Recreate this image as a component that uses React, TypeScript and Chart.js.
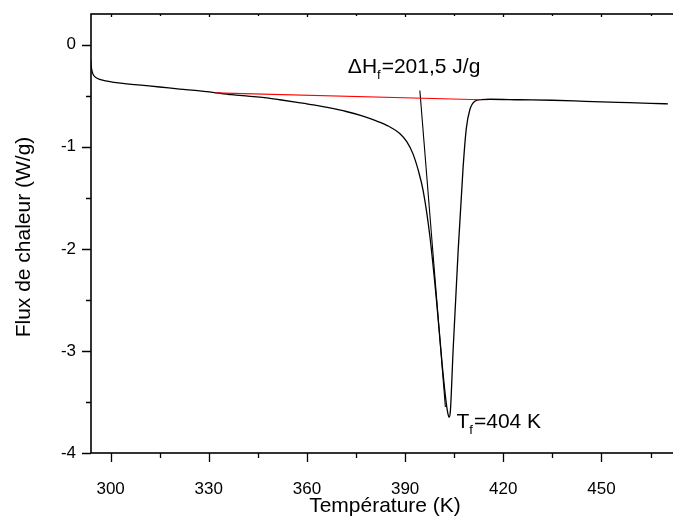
import React, { useEffect, useRef } from 'react';
import { Chart, registerables } from 'chart.js';

Chart.register(...registerables);

// DSC curve: temperature (K) and heat flow (W/g)
const temperature = [
  293.9, 294.1, 294.4, 294.9, 295.6, 296.6, 298.5, 301, 305, 310, 315, 321.1,
  327.2, 331.8, 337, 342, 347, 351.7, 357, 362, 367, 372, 377.1, 381, 385,
  388.35, 390.5, 392.4, 394, 395.5, 397.5, 399.6, 401.4, 402.6, 403.1, 403.4,
  403.8, 404.65, 406.2, 407.7, 408.7, 409.75, 411.3, 413.3, 416, 425, 435,
  445, 455, 465, 470.3,
];
const heatFlow = [
  -0.15, -0.22, -0.27, -0.305, -0.325, -0.34, -0.355, -0.37, -0.385, -0.4,
  -0.415, -0.435, -0.452, -0.47, -0.49, -0.505, -0.52, -0.54, -0.565, -0.59,
  -0.62, -0.655, -0.7, -0.745, -0.8, -0.87, -0.95, -1.07, -1.23, -1.43, -1.86,
  -2.51, -3.16, -3.52, -3.62, -3.65, -3.6, -3.0, -2.02, -1.21, -0.82, -0.64,
  -0.555, -0.538, -0.535, -0.54, -0.545, -0.555, -0.565, -0.575, -0.58,
];

// Integration baseline (red) and tangent line
const baselineT = [331.8, 413.3];
const baselineFlow = [-0.473, -0.54];
const tangentT = [394.5, 402.3];
const tangentFlow = [-0.45, -3.55];

// Axes
const xMajorTicks = [300, 330, 360, 390, 420, 450];
const xMinorTicks = [315, 345, 375, 405, 435, 465];
const yMajorTicks = [-4, -3, -2, -1, 0];
const yMinorTicks = [-3.5, -2.5, -1.5, -0.5];
const xRange = [294, 474];
const yRange = [-4, 0.3];
const xTitle = 'Température (K)';
const yTitle = 'Flux de chaleur (W/g)';

// Annotations: [main text, subscript, rest] and anchor (x value, y value)
const enthalpyLabel = ['ΔH', 'f', '=201,5 J/g'];
const enthalpyAt = [372.5, -0.277];
const meltLabel = ['T', 'f', '=404 K'];
const meltAt = [405.7, -3.76];

const FONT = '"Liberation Sans", Arial, sans-serif';

function toPoints(xs: number[], ys: number[]) {
  return xs.map((x, i) => ({ x, y: ys[i] }));
}

function drawSubText(ctx: CanvasRenderingContext2D, parts: string[], x: number, y: number) {
  ctx.font = `21px ${FONT}`;
  ctx.fillText(parts[0], x, y);
  x += ctx.measureText(parts[0]).width;
  ctx.font = `13px ${FONT}`;
  ctx.fillText(parts[1], x, y + 6);
  x += ctx.measureText(parts[1]).width + 1;
  ctx.font = `21px ${FONT}`;
  ctx.fillText(parts[2], x, y);
}

const framePlugin = {
  id: 'frame',
  afterDatasetsDraw(chart: any) {
    const { ctx, chartArea } = chart;
    const { left, right, top, bottom } = chartArea;
    const xs = chart.scales.x;
    const ys = chart.scales.y;
    ctx.save();
    ctx.strokeStyle = '#000';
    ctx.lineWidth = 1.6;
    ctx.strokeRect(left, top, right - left, bottom - top);

    ctx.lineWidth = 1.3;
    ctx.beginPath();
    const xt = (v: number, len: number, topLen: number) => {
      const px = Math.round(xs.getPixelForValue(v)) + 0.5;
      ctx.moveTo(px, bottom);
      ctx.lineTo(px, bottom + len);
      ctx.moveTo(px, top);
      ctx.lineTo(px, top + topLen);
    };
    xMajorTicks.forEach((v) => xt(v, 9, 3));
    xMinorTicks.forEach((v) => xt(v, 5, 2));
    const yt = (v: number, len: number) => {
      const py = Math.round(ys.getPixelForValue(v)) + 0.5;
      ctx.moveTo(left, py);
      ctx.lineTo(left - len, py);
    };
    yMajorTicks.forEach((v) => yt(v, 9));
    yMinorTicks.forEach((v) => yt(v, 5));
    ctx.stroke();

    ctx.fillStyle = '#000';
    ctx.textAlign = 'center';
    ctx.textBaseline = 'alphabetic';
    ctx.font = `21px ${FONT}`;
    ctx.fillText(xTitle, 385, 512);
    ctx.save();
    ctx.translate(30, 237);
    ctx.rotate(-Math.PI / 2);
    ctx.fillText(yTitle, 0, 0);
    ctx.restore();

    ctx.textAlign = 'left';
    drawSubText(
      ctx,
      enthalpyLabel,
      xs.getPixelForValue(enthalpyAt[0]),
      ys.getPixelForValue(enthalpyAt[1])
    );
    drawSubText(
      ctx,
      meltLabel,
      xs.getPixelForValue(meltAt[0]),
      ys.getPixelForValue(meltAt[1])
    );
    ctx.restore();
  },
};

export default function App() {
  const ref = useRef<HTMLCanvasElement | null>(null);
  useEffect(() => {
    if (!ref.current) return;
    const chart = new Chart(ref.current, {
      type: 'scatter',
      data: {
        datasets: [
          {
            data: toPoints(baselineT, baselineFlow),
            showLine: true,
            borderColor: '#ff0000',
            borderWidth: 1.2,
            pointRadius: 0,
          },
          {
            data: toPoints(tangentT, tangentFlow),
            showLine: true,
            borderColor: '#000',
            borderWidth: 1.1,
            pointRadius: 0,
          },
          {
            data: toPoints(temperature, heatFlow),
            showLine: true,
            borderColor: '#000',
            borderWidth: 1.3,
            pointRadius: 0,
            cubicInterpolationMode: 'monotone',
          },
        ],
      },
      options: {
        animation: false,
        responsive: false,
        devicePixelRatio: 1,
        layout: { padding: { top: 14, left: 0, right: 0, bottom: 0 } },
        plugins: { legend: { display: false }, tooltip: { enabled: false } },
        scales: {
          x: {
            type: 'linear',
            min: xRange[0],
            max: xRange[1],
            afterBuildTicks: (s: any) => {
              s.ticks = xMajorTicks.map((value) => ({ value }));
            },
            afterFit: (s: any) => {
              s.height = 64;
              s.paddingLeft = 0;
              s.paddingRight = 0;
            },
            grid: { display: false, drawTicks: false },
            border: { display: false },
            ticks: {
              color: '#000',
              padding: 26,
              maxRotation: 0,
              font: { family: FONT, size: 17 },
            },
          },
          y: {
            type: 'linear',
            min: yRange[0],
            max: yRange[1],
            afterBuildTicks: (s: any) => {
              s.ticks = yMajorTicks.map((value) => ({ value }));
            },
            afterFit: (s: any) => {
              s.width = 91;
              s.paddingTop = 0;
              s.paddingBottom = 0;
            },
            grid: { display: false, drawTicks: false },
            border: { display: false },
            ticks: {
              color: '#000',
              padding: 15,
              font: { family: FONT, size: 17 },
            },
          },
        },
      },
      plugins: [framePlugin],
    } as any);
    return () => chart.destroy();
  }, []);
  return (
    <div
      style={{
        position: 'fixed',
        left: 0,
        top: 0,
        width: 673,
        height: 517,
        overflow: 'hidden',
        background: '#fff',
      }}
    >
      <canvas ref={ref} width={680} height={517} style={{ display: 'block', width: 680, height: 517 }} />
    </div>
  );
}
